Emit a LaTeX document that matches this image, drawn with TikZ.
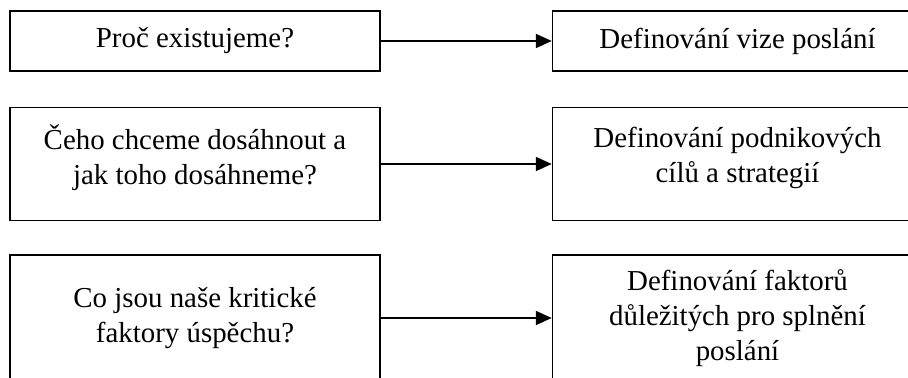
\documentclass[tikz,border=0pt]{standalone}
\usepackage{fontspec}
\setmainfont{Liberation Serif}
\usetikzlibrary{arrows.meta,positioning}
\tikzset{
    %Define standard arrow tip
    >={Triangle[length=8pt,width=7pt]},
    %Define style for boxes
    ramec/.style={
           rectangle,
           draw=black, line width=0.75pt,
           minimum width=185pt,
           align=center,
           font=\fontsize{14.45}{17.5}\selectfont},
    % Define arrow style
    sipka/.style={
           ->,
           line width=1pt}
}

\begin{document}
\begin{tikzpicture}[node distance=17.5pt and 85.5pt]
\useasboundingbox (0,0) rectangle (454pt,189pt);
\clip (0,0) rectangle (454pt,189pt);
% questions
\node[ramec, minimum height=30pt] (1) at (97.5pt,168.5pt) {Proč existujeme?};
\node[ramec, minimum height=56.5pt, text depth=9pt, below=of 1] (2) {Čeho chceme dosáhnout a\\jak toho dosáhneme?};
\node[ramec, minimum height=63pt, below=16.5pt of 2] (3) {Co jsou naše kritické\\faktory úspěchu?};
% answers
\node[ramec, minimum height=30pt, right=of 1] (4) {Definování vize poslání};
\node[ramec, minimum height=56.5pt, text depth=9pt, right=of 2] (5) {Definování podnikových\\cílů a strategií};
\node[ramec, minimum height=63pt, right=of 3] (6) {Definování faktorů\\důležitých pro splnění\\poslání};
\foreach \a/\b in {1/4,2/5,3/6}
  \draw[sipka] (\a) -- (\b);
\end{tikzpicture}
\end{document}
